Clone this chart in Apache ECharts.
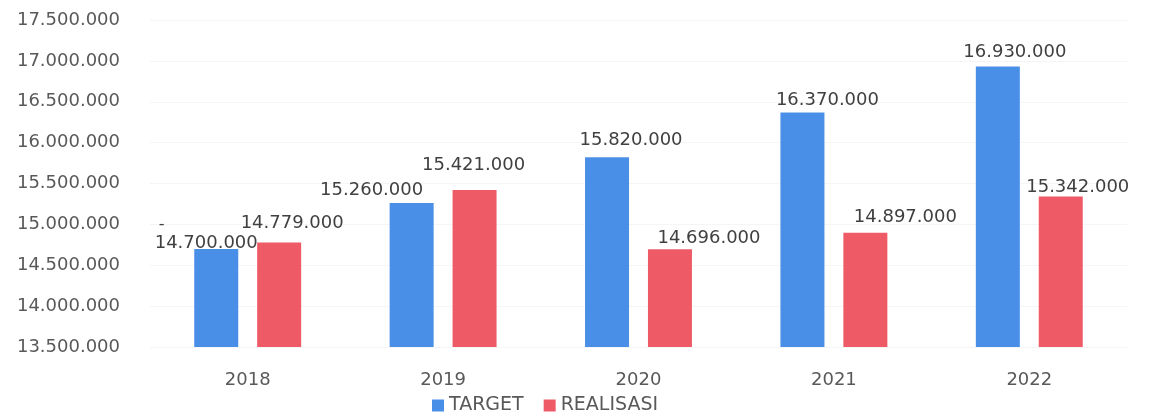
<!DOCTYPE html>
<html>
<head>
<meta charset="utf-8">
<script src="https://cdn.jsdelivr.net/npm/echarts@6/dist/echarts.min.js"></script>
<style>
html,body{margin:0;padding:0;background:#fff;}
#chart{width:1151px;height:416px;}
</style>
</head>
<body>
<div id="chart"></div>
<script>
const categories = ['2018', '2019', '2020', '2021', '2022'];
const targetValues = [14700000, 15260000, 15820000, 16370000, 16930000];
const realisasiValues = [14779000, 15421000, 14696000, 14897000, 15342000];
const yTicks = { min: 13500000, max: 17500000, interval: 500000 };

// label placement (style only)
const targetLabelOffsets = [[-10, 8], [-40, 1], [24, -3], [25, 2], [17, 0]];
const realisasiLabelOffsets = [[13, -5], [-1, -11], [39, 3], [40, -1], [17, 5]];

function fmt(v) {
  return String(v).replace(/\B(?=(\d{3})+(?!\d))/g, '.');
}

const FONT = 'DejaVu Sans';
const TXT = '#595959';

function buildData(values, offsets, isTarget) {
  return values.map((v, i) => {
    const item = { value: v, label: { offset: offsets[i] } };
    if (isTarget && i === 0) {
      item.label.formatter = (p) => '{d|-}\n' + fmt(p.value);
    }
    return item;
  });
}

const labelBase = {
  show: true,
  position: 'top',
  color: '#404040',
  fontFamily: FONT,
  fontSize: 18,
  lineHeight: 18,
  formatter: (p) => fmt(p.value),
  rich: { d: { align: 'left', fontFamily: FONT, fontSize: 16, color: '#404040', lineHeight: 18, padding: [0, 0, 0, 4] } }
};

const chart = echarts.init(document.getElementById('chart'), null, { renderer: 'canvas' });
chart.setOption({
  backgroundColor: '#ffffff',
  animation: false,
  grid: { left: 150, right: 24, top: 20, bottom: 69, containLabel: false },
  legend: {
    top: 392,
    left: 428,
    padding: 4,
    itemWidth: 12,
    itemHeight: 12,
    itemGap: 20,
    icon: 'rect',
    textStyle: { fontFamily: FONT, fontSize: 19, color: TXT },
    data: ['TARGET', 'REALISASI']
  },
  xAxis: {
    type: 'category',
    data: categories,
    axisLine: { show: false },
    axisTick: { show: false },
    axisLabel: { fontFamily: FONT, fontSize: 18, color: TXT, margin: 24 }
  },
  yAxis: {
    type: 'value',
    min: yTicks.min,
    max: yTicks.max,
    interval: yTicks.interval,
    axisLine: { show: false },
    axisTick: { show: false },
    splitLine: { show: true, lineStyle: { color: '#f5f5f5' } },
    axisLabel: { fontFamily: FONT, fontSize: 18, color: TXT, margin: 30, formatter: (v) => fmt(v) }
  },
  series: [
    {
      name: 'TARGET',
      type: 'bar',
      barWidth: 44,
      barGap: '43%',
      itemStyle: { color: '#4a8fe7' },
      label: labelBase,
      data: buildData(targetValues, targetLabelOffsets, true)
    },
    {
      name: 'REALISASI',
      type: 'bar',
      barWidth: 44,
      itemStyle: { color: '#ee5b67' },
      label: labelBase,
      data: buildData(realisasiValues, realisasiLabelOffsets, false)
    }
  ]
});
</script>
</body>
</html>
